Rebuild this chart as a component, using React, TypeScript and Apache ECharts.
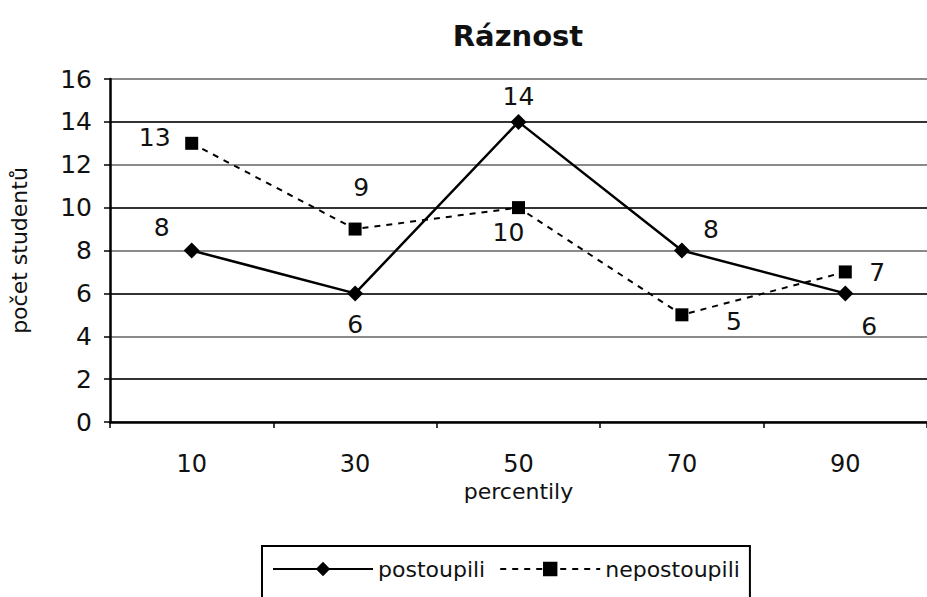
import React, { useEffect, useRef } from "react";
import * as echarts from "echarts";

const categories = ["10", "30", "50", "70", "90"];
const postoupili = [8, 6, 14, 8, 6];
const nepostoupili = [13, 9, 10, 5, 7];
const seriesNames = ["postoupili", "nepostoupili"];

// label offsets (styling, kept separate from data values)
const postOffsets = [[-30, -23], [0, 31], [0, -25], [29, -21], [24, 33]];
const nepostOffsets = [[-37, -6], [6, -42], [-10, 25], [52, 7], [32, 1]];

const FONT = "DejaVu Sans";

export default function App() {
  const ref = useRef<HTMLDivElement>(null);
  useEffect(() => {
    if (!ref.current) return;
    const chart = echarts.init(ref.current, undefined, { renderer: "svg" });
    const mk = (vals: number[], offs: number[][]) =>
      vals.map((v, i) => ({
        value: v,
        label: { offset: offs[i] },
      }));
    chart.setOption({
      animation: false,
      backgroundColor: "#fff",
      textStyle: { fontFamily: FONT, color: "#000" },
      title: {
        text: "Ráznost",
        left: 513,
        textAlign: "center",
        top: 16,
        textStyle: { fontFamily: FONT, fontSize: 29, fontWeight: "bold", color: "#111" },
      },
      legend: {
        left: 262,
        top: 546,
        orient: "horizontal",
        data: seriesNames,
        itemWidth: 100,
        itemHeight: 18,
        itemGap: 14,
        padding: [12, 10, 30, 10],
        borderColor: "#000",
        borderWidth: 2,
        textStyle: { fontFamily: FONT, fontSize: 22, color: "#111" },
      },
      grid: { left: 110, top: 79, width: 822, height: 343, containLabel: false },
      xAxis: {
        type: "category",
        data: categories,
        boundaryGap: true,
        name: "percentily",
        nameLocation: "middle",
        nameGap: 56,
        nameTextStyle: { fontFamily: FONT, fontSize: 22, color: "#111" },
        axisLine: { lineStyle: { color: "#000", width: 2.5 } },
        axisTick: { show: true, length: 6, inside: false, lineStyle: { color: "#000", width: 1.5 } },
        axisLabel: { margin: 30, fontFamily: FONT, fontSize: 24, color: "#111" },
        splitLine: { show: false },
      },
      yAxis: {
        type: "value",
        min: 0,
        max: 16,
        interval: 2,
        name: "počet studentů",
        nameLocation: "middle",
        nameGap: 80,
        nameTextStyle: { fontFamily: FONT, fontSize: 22, color: "#111" },
        axisLine: { show: true, lineStyle: { color: "#000", width: 2.5 } },
        axisTick: { show: true, length: 6, lineStyle: { color: "#000", width: 1.5 } },
        axisLabel: { margin: 18, fontFamily: FONT, fontSize: 25, color: "#111" },
        splitLine: { show: true, lineStyle: { color: ["#8a8a8a", "#333"], width: 2 } },
      },
      series: [
        {
          name: seriesNames[0],
          type: "line",
          data: mk(postoupili, postOffsets),
          symbol: "diamond",
          symbolSize: 16,
          itemStyle: { color: "#000" },
          lineStyle: { color: "#000", width: 2.5, type: "solid" },
          label: {
            show: true,
            position: "inside",
            fontFamily: FONT,
            fontSize: 25,
            color: "#111",
          },
          z: 3,
        },
        {
          name: seriesNames[1],
          type: "line",
          data: mk(nepostoupili, nepostOffsets),
          symbol: "rect",
          symbolSize: 13,
          itemStyle: { color: "#000" },
          lineStyle: { color: "#000", width: 2, type: [6, 6] },
          label: {
            show: true,
            position: "inside",
            fontFamily: FONT,
            fontSize: 25,
            color: "#111",
          },
          z: 2,
        },
      ],
    });
    return () => chart.dispose();
  }, []);
  return (
    <div
      ref={ref}
      style={{ position: "absolute", left: 0, top: 0, width: 927, height: 597 }}
    />
  );
}
